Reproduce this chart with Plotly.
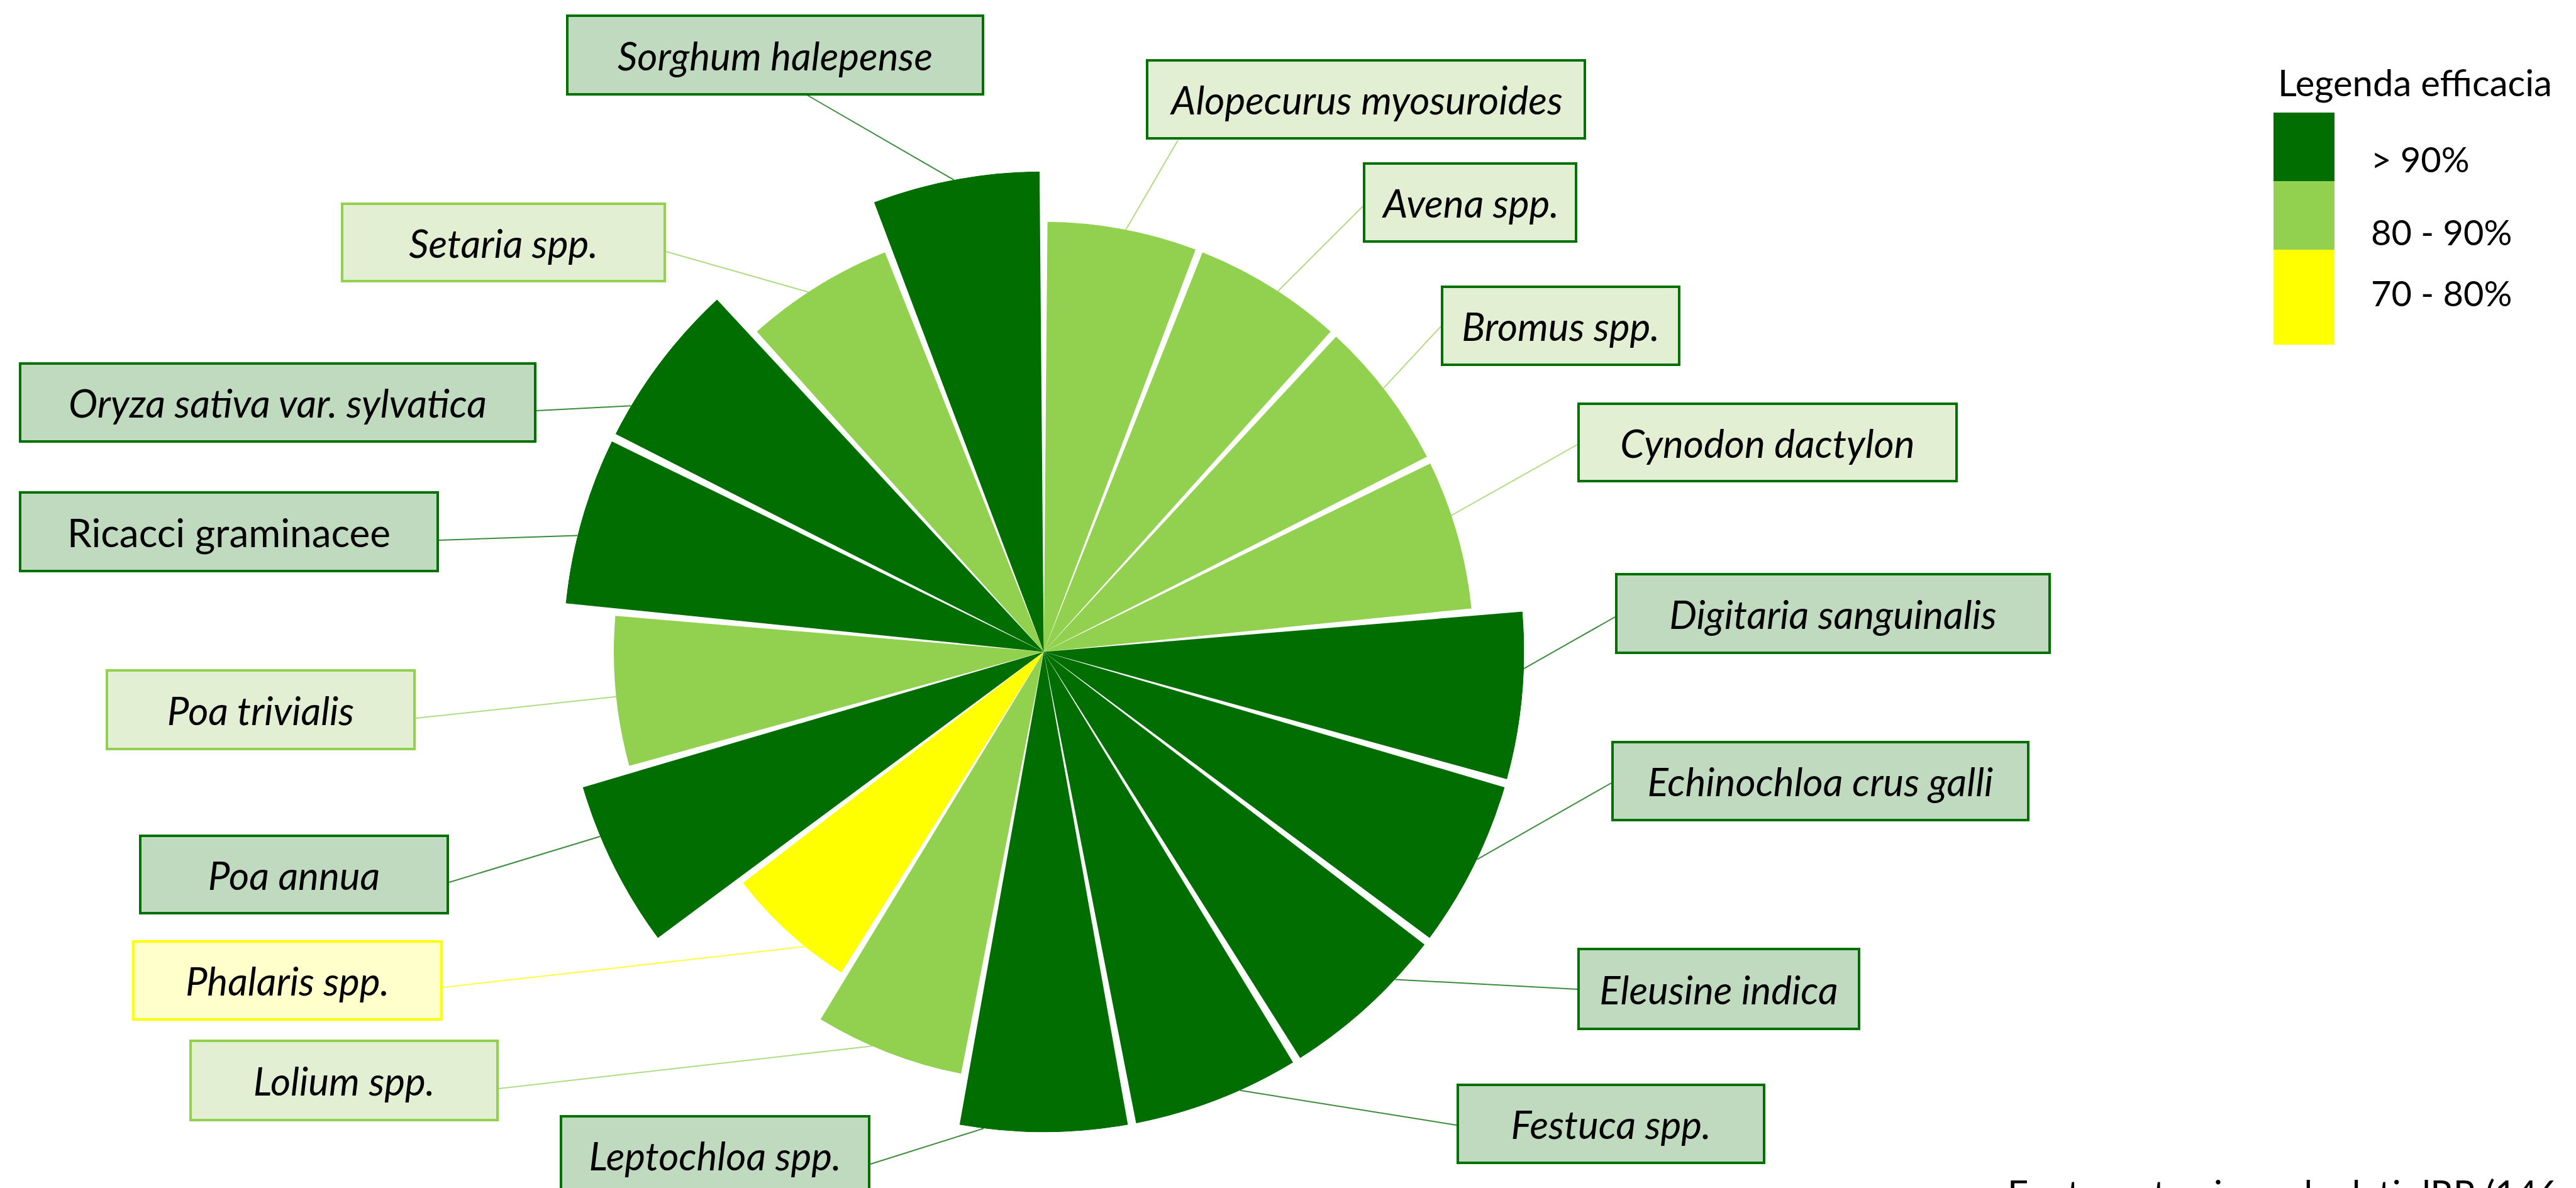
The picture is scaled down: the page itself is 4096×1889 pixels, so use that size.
import math
import plotly.graph_objects as go

# ---------------- data ----------------
species = [
    "Alopecurus myosuroides", "Avena spp.", "Bromus spp.", "Cynodon dactylon",
    "Digitaria sanguinalis", "Echinochloa crus galli", "Eleusine indica",
    "Festuca spp.", "Leptochloa spp.", "Lolium spp.", "Phalaris spp.",
    "Poa annua", "Poa trivialis", "Ricacci graminacee",
    "Oryza sativa var. sylvatica", "Setaria spp.", "Sorghum halepense",
]
efficacy = [85, 85, 85, 85, 95, 95, 95, 95, 95, 85, 75, 95, 85, 95, 95, 85, 95]
italic = [True] * 13 + [False] + [True] * 3
legend_labels = ["> 90%", "80 - 90%", "70 - 80%"]
legend_title = "Legenda efficacia"
footer = "Fonte: estrazione da dati dRR (146 prove)"

# ---------------- style ----------------
W, H = 4096, 1889
DARK, LIGHT, YELLOW = "#006E00", "#92D050", "#FFFF00"


def cls(v):
    return 0 if v > 90 else (1 if v > 80 else 2)


bar_colors = [[DARK, LIGHT, YELLOW][cls(v)] for v in efficacy]

# polar placement (pixels)
CX, CY, RPX, RMAX = 1651.6, 1028.4, 764.0, 95.0
n = len(species)
step = 360.0 / n
thetas = [i * step + step / 2 for i in range(n)]

fig = go.Figure()
fig.add_trace(go.Barpolar(
    r=efficacy, theta=thetas, width=[step - 1.0] * n,
    marker=dict(color=bar_colors, line=dict(width=0)),
    hoverinfo="skip", showlegend=False,
))

fig.update_layout(
    width=W, height=H, margin=dict(l=0, r=0, t=0, b=0),
    paper_bgcolor="white", plot_bgcolor="white",
    showlegend=False,
    polar=dict(
        domain=dict(x=[(CX - RPX) / W, (CX + RPX) / W],
                    y=[(H - CY - RPX) / H, (H - CY + RPX) / H]),
        bgcolor="rgba(0,0,0,0)",
        radialaxis=dict(range=[0, RMAX], visible=False, showgrid=False),
        angularaxis=dict(direction="clockwise", rotation=90, visible=False,
                         showgrid=False, thetaunit="degrees", type="linear"),
        hole=0,
    ),
)

# ---------------- label boxes (layout, pixels) ----------------
# left, top, right, bottom
boxes = [
    (1814, 86, 2514, 214), (2159, 250, 2500, 378), (2283, 446, 2664, 574),
    (2500, 632, 3105, 759), (2560, 903, 3253, 1032), (2554, 1170, 3219, 1298),
    (2500, 1499, 2950, 1630), (2308, 1715, 2799, 1843), (882, 1765, 1376, 1893),
    (293, 1645, 785, 1775), (202, 1487, 696, 1615), (213, 1319, 706, 1446),
    (160, 1056, 653, 1185), (22, 773, 690, 902), (22, 568, 845, 696),
    (534, 314, 1051, 441), (892, 15, 1557, 144),
]
# where the leader leaves the box (pixels)
leader_start = [
    (1865, 215), (2159, 320), (2283, 511), (2500, 699), (2560, 973),
    (2554, 1237), (2500, 1565), (2308, 1781), (1376, 1843), (785, 1723),
    (696, 1562), (706, 1395), (653, 1134), (690, 851), (845, 645),
    (1051, 392), (1275, 143),
]
# clockwise angle from north where the leader touches the wedge
leader_angle = [11, 33, 52.2, 71.5, 92, 115.6, 133, 155.9, 187.2, 203.5,
                219, 247.4, 264, 284, 300.8, 326.8, 349.2]
# box style per item: 'd' dark, 'ld' light fill dark border, 'l' light, 'y' yellow
box_style = ["ld", "ld", "ld", "ld", "d", "d", "d", "d", "d", "l", "y",
             "d", "l", "d", "d", "l", "d"]
styles = {
    "d": ("#C0DAC0", "#007000"),
    "ld": ("#E2EFD2", "#007000"),
    "l": ("#E2EFD2", "#92D050"),
    "y": ("#FFFFCC", "#FFFF00"),
}
leader_colors = {0: "#3C8C3C", 1: "#B0DC84", 2: "#FFFF40"}


def px(x):
    return x / W


def py(y):
    return 1 - y / H


shapes = []
annotations = []
for i in range(n):
    # leader line
    rr = efficacy[i] / RMAX * RPX
    a = math.radians(leader_angle[i])
    ex, ey = CX + rr * math.sin(a), CY - rr * math.cos(a)
    sx, sy = leader_start[i]
    shapes.append(dict(type="line", xref="paper", yref="paper",
                       x0=px(sx), y0=py(sy), x1=px(ex), y1=py(ey),
                       line=dict(color=leader_colors[cls(efficacy[i])], width=2),
                       layer="below"))
    l, t, r_, b = boxes[i]
    fill, border = styles[box_style[i]]
    txt = f"<i>{species[i]}</i>" if italic[i] else species[i]
    annotations.append(dict(
        xref="paper", yref="paper", x=px(l), y=py(t),
        xanchor="left", yanchor="top", showarrow=False,
        text=txt, width=r_ - l - 8, height=b - t - 8,
        align="center", valign="middle",
        bgcolor=fill, bordercolor=border, borderwidth=4, borderpad=0,
        font=dict(family="Lato", size=62, color="black"),
    ))

# ---------------- legend ----------------
leg_x0, leg_x1 = 3607, 3704
leg_bands = [(171, 280), (280, 389), (389, 540)]
for (y0, y1), c in zip(leg_bands, [DARK, LIGHT, YELLOW]):
    shapes.append(dict(type="rect", xref="paper", yref="paper",
                       x0=px(leg_x0), x1=px(leg_x1), y0=py(y1), y1=py(y0),
                       fillcolor=c, line=dict(width=0)))
annotations.append(dict(xref="paper", yref="paper", x=px(3612), y=py(147),
                        xanchor="left", yanchor="bottom", showarrow=False,
                        text=legend_title, yshift=-12,
                        font=dict(family="Lato", size=58, color="black")))
for lab, base in zip(legend_labels, [268, 384, 481]):
    annotations.append(dict(xref="paper", yref="paper", x=px(3760), y=py(base),
                            xanchor="left", yanchor="bottom", showarrow=False,
                            text=lab, yshift=-12,
                            font=dict(family="Lato", size=56, color="black")))

annotations.append(dict(xref="paper", yref="paper", x=px(3182), y=py(1852),
                        xanchor="left", yanchor="top", showarrow=False,
                        text=footer,
                        font=dict(family="Lato", size=58, color="black")))

fig.update_layout(shapes=shapes, annotations=annotations)
fig.write_html("out.html")
